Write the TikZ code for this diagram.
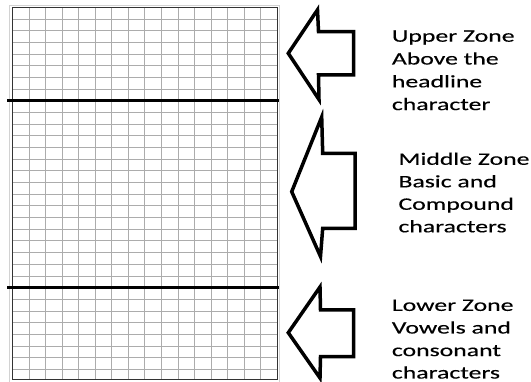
\documentclass[tikz,border=0pt]{standalone}
\usepackage{fontspec}
\setmainfont{Carlito}[FakeStretch=1.47,FakeBold=0.35]
\begin{document}
\begin{tikzpicture}[x=1pt,y=-1pt,
  gridline/.style={draw=gray!65,line width=0.6pt},
  gridframe/.style={draw=black!80,line width=1pt},
  outerframe/.style={draw=gray!35,line width=0.8pt},
  zoneline/.style={draw=black,line width=3pt},
  blockarrow/.style={draw=black,line width=3.5pt,line join=miter,miter limit=10,fill=white},
  lbl/.style={anchor=base west,inner sep=0pt,font=\fontsize{17.5}{20}\selectfont,text=black}]
\useasboundingbox (0,0) rectangle (531,382);
\fill[white] (0,0) rectangle (531,382);
% grid
\draw[outerframe] (9.3,382) -- (9.3,5.3) -- (279.8,5.3) -- (279.8,382);
\foreach \i in {1,...,15} \draw[gridline] ({12.3+\i*16.55},7.4) -- ({12.3+\i*16.55},379.5);
\foreach \j in {1,...,31} \draw[gridline] (12.3,{7.4+\j*11.67}) -- (277.1,{7.4+\j*11.67});
\draw[gridframe] (12.3,7.4) rectangle (277.1,379.5);
% zone separators
\coordinate (s1l) at (7,100.8);
\coordinate (s1r) at (278.5,100.8);
\coordinate (s2l) at (7,287.6);
\coordinate (s2r) at (278.5,287.6);
\draw[zoneline] (s1l) -- (s1r);
\draw[zoneline] (s2l) -- (s2r);
% block arrows
\draw[blockarrow] (288.3,53.3) -- (317.5,9.8) -- (318.5,31.7) -- (353.5,31.7) -- (353.5,75) -- (318.5,75) -- (319,99.5) -- cycle;
\draw[blockarrow] (291.7,191.7) -- (321.7,117) -- (322.7,153.3) -- (355,153.3) -- (355,228.3) -- (322.7,228.3) -- (320.5,256.5) -- cycle;
\draw[blockarrow] (288.3,332.7) -- (320,287) -- (320.5,310) -- (353.5,310) -- (353.5,356.7) -- (320.5,356.7) -- (320,378) -- cycle;
% labels
\node[lbl] (u1) at (391.7,41.7) {Upper Zone};
\node[lbl] (u2) at (391.7,64.5) {Above the};
\node[lbl] (u3) at (391.7,87.3) {headline};
\node[lbl] (u4) at (391.7,110.1) {character};
\node[lbl] (m1) at (398.3,164.8) {Middle Zone};
\node[lbl] (m2) at (398.3,187.3) {Basic and};
\node[lbl] (m3) at (398.3,209.8) {Compound};
\node[lbl] (m4) at (398.3,232.3) {characters};
\node[lbl] (l1) at (391.7,310.9) {Lower Zone};
\node[lbl] (l2) at (391.7,333.5) {Vowels and};
\node[lbl] (l3) at (391.7,356.1) {consonant};
\node[lbl] (l4) at (391.7,378.5) {characters};
\end{tikzpicture}
\end{document}
